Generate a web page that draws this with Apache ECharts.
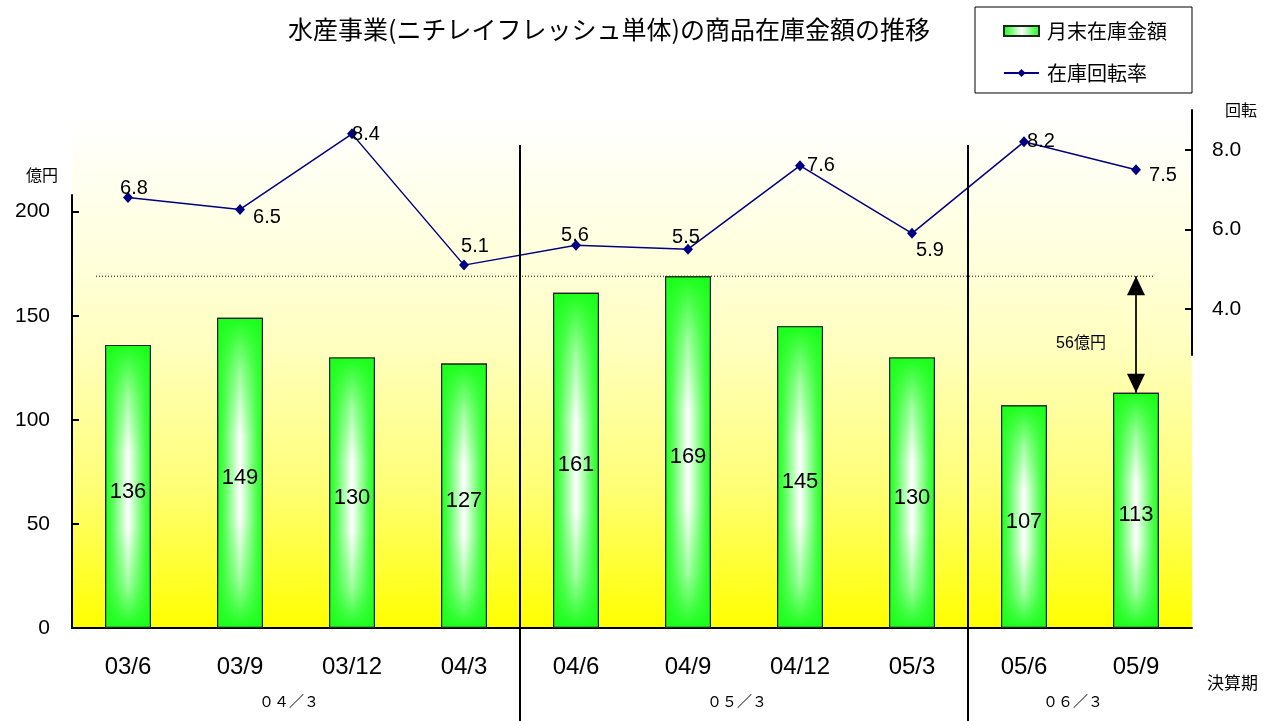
<!DOCTYPE html>
<html><head><meta charset="utf-8">
<script src="https://cdn.jsdelivr.net/npm/echarts@6/dist/echarts.min.js"></script>
<style>html,body{margin:0;padding:0;background:#fff}#main{width:1264px;height:721px}</style>
</head><body><div id="main"></div>
<script>
// ---- data ----
const categories = ['03/6','03/9','03/12','04/3','04/6','04/9','04/12','05/3','05/6','05/9'];
const stockAmount = [136,149,130,127,161,169,145,130,107,113];
const turnoverRate = [6.8,6.5,8.4,5.1,5.6,5.5,7.6,5.9,8.2,7.5];
const leftTicks = [0,50,100,150,200];
const rightTicks = [4,6,8];
const fiscalGroups = ['０４／３','０５／３','０６／３'];
const groupCenters = [1.5,5.5,8.5];
const groupBoundaries = [3.5,7.5];
// label placement (style only)
const labelOffsets = [[6,-9],[27,8],[14,1],[11,-19],[-1,-10],[-2,-12],[21,0],[18,17],[17,0],[27,6]];

const JP = '"Noto Sans CJK JP", sans-serif';
const NUM = '"Liberation Sans", Arial, "Noto Sans CJK JP", sans-serif';
const maxStock = Math.max(...stockAmount);
const lastCat = categories[categories.length - 1];
const lastStock = stockAmount[stockAmount.length - 1];
const gapText = (maxStock - lastStock) + '億円';

const chart = echarts.init(document.getElementById('main'));
const G = echarts.graphic;
const option = {
  animation: false,
  backgroundColor: '#fff',
  title: {
    text: '水産事業(ニチレイフレッシュ単体)の商品在庫金額の推移',
    left: 283, top: 12,
    textStyle: { fontFamily: JP, fontSize: 25, fontWeight: 'normal', color: '#000' }
  },
  legend: {
    orient: 'vertical', left: 975, top: 7,
    data: [{ name: '月末在庫金額', icon: 'rect' }, { name: '在庫回転率' }],
    itemWidth: 35, itemHeight: 10, itemGap: 22,
    padding: [14, 25, 10, 28],
    borderColor: '#000', borderWidth: 1, backgroundColor: '#fff',
    selectedMode: false,
    textStyle: { fontFamily: JP, fontSize: 20, color: '#000', padding: [0, 0, 0, 3] }
  },
  grid: [
    { left: 72, right: 72, top: 195, bottom: 93 },
    { left: 72, right: 72, top: 110, bottom: 366 }
  ],
  xAxis: [
    {
      type: 'category', gridIndex: 0, data: categories,
      axisLine: { onZero: false, lineStyle: { color: '#000', width: 2 } },
      axisTick: { inside: true, length: 6, lineStyle: { color: '#000', width: 2 } },
      axisLabel: { fontFamily: NUM, fontSize: 24, color: '#000', margin: 27 },
      name: '決算期', nameLocation: 'end', nameGap: 15,
      nameTextStyle: { fontFamily: JP, fontSize: 17, color: '#000', align: 'left', verticalAlign: 'top', padding: [46, 0, 0, 0] }
    },
    {
      type: 'value', gridIndex: 0, min: -0.5, max: 9.5, position: 'bottom',
      axisLine: { show: false, onZero: false }, axisTick: { show: false }, splitLine: { show: false },
      axisLabel: {
        customValues: groupCenters,
        formatter: v => fiscalGroups[groupCenters.indexOf(v)] || '',
        fontFamily: JP, fontSize: 15, color: '#000', margin: 66, padding: [0, 14, 0, 0]
      }
    },
    { type: 'category', gridIndex: 1, data: categories, show: false }
  ],
  yAxis: [
    {
      type: 'value', gridIndex: 0, min: 0, max: 208,
      axisLine: { show: true, onZero: false, lineStyle: { color: '#000', width: 2 } },
      axisTick: { show: true, inside: true, length: 7, customValues: leftTicks, lineStyle: { color: '#000', width: 2 } },
      axisLabel: { customValues: leftTicks, fontFamily: NUM, fontSize: 21, color: '#000', margin: 22, padding: [12, 0, 0, 0] },
      splitLine: { show: false },
      name: '億円', nameLocation: 'end', nameGap: 12,
      nameTextStyle: { fontFamily: JP, fontSize: 16, color: '#000', align: 'right', verticalAlign: 'bottom', padding: [0, 14, 0, 0] }
    },
    {
      type: 'value', gridIndex: 1, position: 'right', min: 2.84, max: 9.0,
      axisLine: { show: true, onZero: false, lineStyle: { color: '#000', width: 2 } },
      axisTick: { show: true, inside: true, length: 7, customValues: rightTicks, lineStyle: { color: '#000', width: 2 } },
      axisLabel: { customValues: rightTicks, formatter: v => v.toFixed(1), fontFamily: NUM, fontSize: 21, color: '#000', margin: 20, padding: [12, 0, 0, 0] },
      splitLine: { show: false },
      name: '回転', nameLocation: 'end', nameGap: 0,
      nameTextStyle: { fontFamily: JP, fontSize: 16, color: '#000', align: 'left', verticalAlign: 'middle', padding: [8, 0, 0, 33] }
    }
  ],
  series: [
    {
      name: '月末在庫金額', type: 'bar', xAxisIndex: 0, yAxisIndex: 0,
      data: stockAmount, barWidth: 46,
      itemStyle: {
        color: new G.LinearGradient(0, 0, 1, 0, [
          { offset: 0, color: '#1eff1e' }, { offset: 0.14, color: '#4cff4c' },
          { offset: 0.5, color: '#ffffff' }, { offset: 0.86, color: '#4cff4c' }, { offset: 1, color: '#1eff1e' }
        ]),
        borderColor: '#222', borderWidth: 1.2
      },
      markLine: {
        silent: true, symbol: ['none', 'none'],
        lineStyle: { color: '#222', width: 2, type: 'solid' },
        label: { show: false },
        data: [[{ coord: [lastCat, maxStock] }, { coord: [lastCat, lastStock] }]]
      }
    },
    {
      name: 'shade', type: 'bar', xAxisIndex: 0, yAxisIndex: 0,
      data: stockAmount, barWidth: 46, barGap: '-100%',
      itemStyle: {
        color: new G.LinearGradient(0, 0, 0, 1, [
          { offset: 0, color: 'rgba(26,255,26,1)' }, { offset: 0.18, color: 'rgba(40,255,40,0.45)' },
          { offset: 0.38, color: 'rgba(40,255,40,0)' }, { offset: 0.65, color: 'rgba(40,255,40,0)' },
          { offset: 0.85, color: 'rgba(40,255,40,0.45)' }, { offset: 1, color: 'rgba(26,255,26,1)' }
        ]),
        borderColor: '#222', borderWidth: 1.2
      },
      label: { show: true, position: 'inside', offset: [0, 5], fontFamily: NUM, fontSize: 22, color: '#000' },
      markPoint: {
        silent: true,
        itemStyle: { color: '#000' },
        label: { show: false },
        data: [
          { coord: [lastCat, maxStock], symbol: 'triangle', symbolSize: [18, 19], symbolOffset: [0, '50%'] },
          { coord: [lastCat, lastStock], symbol: 'triangle', symbolSize: [18, 19], symbolRotate: 180, symbolOffset: [0, '-50%'] },
          {
            coord: [lastCat, (maxStock + lastStock) / 2], symbol: 'rect', symbolSize: 0,
            label: { show: true, formatter: gapText, offset: [-55, 9], fontFamily: NUM, fontSize: 16, color: '#000' }
          }
        ]
      }
    },
    {
      name: '在庫回転率', type: 'line', xAxisIndex: 2, yAxisIndex: 1,
      data: turnoverRate.map((v, i) => ({ value: v, label: { offset: labelOffsets[i] } })),
      symbol: 'diamond', symbolSize: [10, 11],
      lineStyle: { color: '#000080', width: 1.5 },
      itemStyle: { color: '#000080' },
      label: { show: true, position: 'inside', fontFamily: NUM, fontSize: 20, color: '#000', formatter: p => p.value.toFixed(1) },
      z: 5
    }
  ]
};
chart.setOption(option);

// layout decorations derived from the axes
const yBase = chart.convertToPixel({ yAxisIndex: 0 }, 0);
const yRef = chart.convertToPixel({ yAxisIndex: 0 }, maxStock);
const xLeft = chart.convertToPixel({ xAxisIndex: 1 }, -0.5);
const xRight = chart.convertToPixel({ xAxisIndex: 1 }, 9.5);
const graphics = [
  {
    type: 'rect', z: -10, silent: true,
    shape: { x: xLeft, y: 120, width: xRight - xLeft, height: yBase - 120 },
    style: {
      fill: new G.LinearGradient(0, 0, 0, 1, [
        { offset: 0, color: '#ffffff' }, { offset: 0.3, color: '#ffffd8' },
        { offset: 0.45, color: '#ffffbe' }, { offset: 0.72, color: '#ffff78' }, { offset: 1, color: '#ffff00' }
      ])
    }
  },
  {
    type: 'line', z: 1, silent: true,
    shape: { x1: 96, y1: yRef, x2: 1155, y2: yRef },
    style: { stroke: '#000', lineWidth: 1, lineDash: [1, 2] }
  }
];
groupBoundaries.forEach(b => {
  const x = chart.convertToPixel({ xAxisIndex: 1 }, b);
  graphics.push({ type: 'line', z: 10, silent: true, shape: { x1: x, y1: 145, x2: x, y2: 721 }, style: { stroke: '#000', lineWidth: 2 } });
});
chart.setOption({ graphic: graphics });
</script></body></html>
